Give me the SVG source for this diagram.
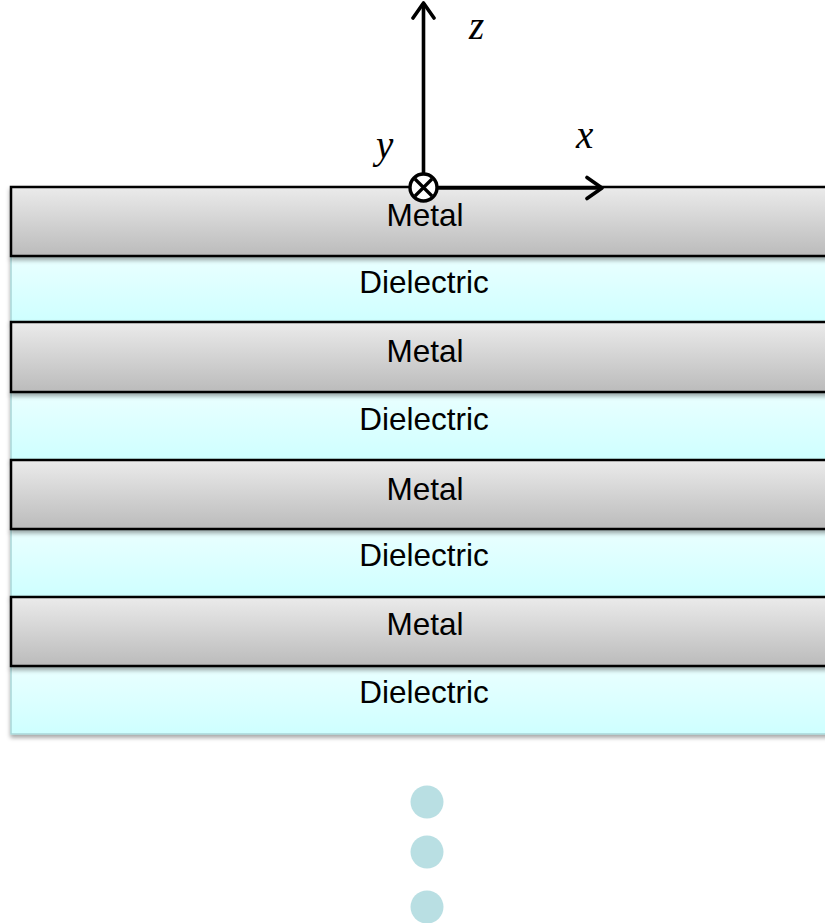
<svg xmlns="http://www.w3.org/2000/svg" width="825" height="923" viewBox="0 0 825 923">
<defs>
<linearGradient id="gMetal" x1="0" y1="0" x2="0" y2="1">
<stop offset="0" stop-color="#ebebeb"/>
<stop offset="1" stop-color="#bbbbbb"/>
</linearGradient>
<linearGradient id="gDiel" x1="0" y1="0" x2="0" y2="1">
<stop offset="0" stop-color="#eaffff"/>
<stop offset="1" stop-color="#ceffff"/>
</linearGradient>
<filter id="sh" x="-5%" y="-20%" width="110%" height="150%">
<feDropShadow dx="0" dy="3" stdDeviation="2" flood-color="#000" flood-opacity="0.35"/>
</filter>
<marker id="arr" viewBox="0 0 20 26" refX="18" refY="13" markerWidth="20" markerHeight="26" markerUnits="userSpaceOnUse" orient="auto">
<path d="M3,2.5 L18,13 L3,23.5" fill="none" stroke="#000" stroke-width="3.6" stroke-linecap="round" stroke-linejoin="round"/>
</marker>
</defs>
<style>
.metal{fill:url(#gMetal);stroke:#000;stroke-width:2.5;filter:url(#sh)}
.diel{fill:url(#gDiel);stroke:#a9d6d8;stroke-width:1.5;filter:url(#sh)}
.lbl{font-family:"Liberation Sans",Arial,sans-serif;font-size:31.5px;fill:#000;text-anchor:middle}
.ax{font-family:"Liberation Serif","Times New Roman",serif;font-style:italic;font-size:39px;fill:#000}
.axis{stroke:#000;stroke-width:3.6;fill:none}
.dot{fill:#b9dfe3}
</style>
<g id="diel1"><rect class="diel" x="11" y="256" width="830" height="66"/><text class="lbl" x="424" y="293">Dielectric</text></g>
<g id="diel2"><rect class="diel" x="11" y="392" width="830" height="68"/><text class="lbl" x="424" y="430">Dielectric</text></g>
<g id="diel3"><rect class="diel" x="11" y="529" width="830" height="68"/><text class="lbl" x="424" y="566">Dielectric</text></g>
<g id="diel4"><rect class="diel" x="11" y="666" width="830" height="68"/><text class="lbl" x="424" y="703">Dielectric</text></g>
<g id="metal1"><rect class="metal" x="11" y="187" width="830" height="69"/><text class="lbl" x="425" y="226">Metal</text></g>
<g id="metal2"><rect class="metal" x="11" y="322" width="830" height="70"/><text class="lbl" x="425" y="362">Metal</text></g>
<g id="metal3"><rect class="metal" x="11" y="460" width="830" height="69"/><text class="lbl" x="425" y="500">Metal</text></g>
<g id="metal4"><rect class="metal" x="11" y="597" width="830" height="69"/><text class="lbl" x="425" y="635">Metal</text></g>
<g id="connectors">
<line class="axis" x1="423.5" y1="174" x2="423.5" y2="3" marker-end="url(#arr)"/>
<line class="axis" x1="437" y1="188" x2="602" y2="188" marker-end="url(#arr)"/>
</g>
<g id="y-axis-symbol">
<circle cx="423.5" cy="187.5" r="13.5" fill="#fff" stroke="#000" stroke-width="3.4"/>
<path d="M415,179 L432,196 M432,179 L415,196" stroke="#000" stroke-width="3.2"/>
</g>
<g id="labels">
<text class="ax" x="469" y="39">z</text>
<text class="ax" x="376" y="158">y</text>
<text class="ax" x="576" y="148">x</text>
</g>
<g id="dots">
<circle class="dot" cx="427" cy="802" r="16.5"/>
<circle class="dot" cx="427" cy="852" r="16.5"/>
<circle class="dot" cx="427" cy="907" r="16.5"/>
</g>
</svg>
